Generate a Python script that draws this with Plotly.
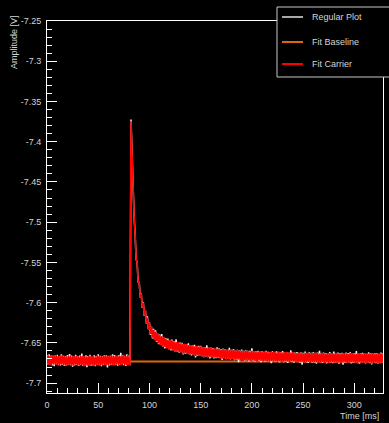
import plotly.graph_objects as go

# ---- trace data -------------------------------------------------------------
# the scope trace is sampled every 1 ms from 0 to 328 ms
time_ms = list(range(0, 329))

# slow signal level [V] at each sample
level_v = [
    -7.6712, -7.6714, -7.6713, -7.6715, -7.6716, -7.6714, -7.6715, -7.6717, -7.6716, -7.6715,
    -7.6716, -7.6718, -7.6717, -7.6716, -7.6718, -7.6719, -7.6718, -7.6717, -7.6719, -7.6720,
    -7.6719, -7.6720, -7.6721, -7.6720, -7.6719, -7.6721, -7.6722, -7.6721, -7.6720, -7.6722,
    -7.6723, -7.6722, -7.6721, -7.6723, -7.6724, -7.6722, -7.6723, -7.6724, -7.6723, -7.6722,
    -7.6723, -7.6724, -7.6722, -7.6721, -7.6723, -7.6722, -7.6721, -7.6722, -7.6720, -7.6721,
    -7.6720, -7.6719, -7.6721, -7.6720, -7.6718, -7.6719, -7.6720, -7.6718, -7.6717, -7.6719,
    -7.6718, -7.6716, -7.6717, -7.6718, -7.6716, -7.6715, -7.6717, -7.6716, -7.6714, -7.6715,
    -7.6716, -7.6714, -7.6713, -7.6715, -7.6714, -7.6712, -7.6713, -7.6714, -7.6712, -7.6711,
    -7.6712, -7.6713, -7.3780, -7.4150, -7.4520, -7.4870, -7.5200, -7.5400, -7.5560, -7.5690,
    -7.5800, -7.5880, -7.5950, -7.6005, -7.6060, -7.6105, -7.6150, -7.6195, -7.6240, -7.6275,
    -7.6310, -7.6335, -7.6360, -7.6375, -7.6390, -7.6405, -7.6417, -7.6429, -7.6440, -7.6449,
    -7.6459, -7.6468, -7.6475, -7.6483, -7.6490, -7.6496, -7.6502, -7.6508, -7.6513, -7.6518,
    -7.6522, -7.6526, -7.6531, -7.6535, -7.6539, -7.6543, -7.6547, -7.6550, -7.6554, -7.6557,
    -7.6560, -7.6563, -7.6566, -7.6569, -7.6571, -7.6574, -7.6577, -7.6579, -7.6582, -7.6584,
    -7.6587, -7.6589, -7.6591, -7.6593, -7.6595, -7.6597, -7.6599, -7.6601, -7.6603, -7.6605,
    -7.6607, -7.6608, -7.6610, -7.6612, -7.6613, -7.6615, -7.6616, -7.6618, -7.6619, -7.6621,
    -7.6622, -7.6624, -7.6625, -7.6626, -7.6628, -7.6629, -7.6630, -7.6631, -7.6633, -7.6634,
    -7.6635, -7.6636, -7.6637, -7.6638, -7.6639, -7.6640, -7.6641, -7.6642, -7.6643, -7.6644,
    -7.6645, -7.6646, -7.6647, -7.6648, -7.6649, -7.6650, -7.6651, -7.6652, -7.6653, -7.6654,
    -7.6655, -7.6655, -7.6656, -7.6657, -7.6658, -7.6659, -7.6659, -7.6660, -7.6661, -7.6661,
    -7.6662, -7.6663, -7.6663, -7.6664, -7.6665, -7.6665, -7.6666, -7.6666, -7.6667, -7.6667,
    -7.6668, -7.6668, -7.6669, -7.6669, -7.6670, -7.6670, -7.6671, -7.6671, -7.6672, -7.6672,
    -7.6672, -7.6673, -7.6673, -7.6674, -7.6674, -7.6674, -7.6675, -7.6675, -7.6675, -7.6676,
    -7.6676, -7.6676, -7.6677, -7.6677, -7.6677, -7.6678, -7.6678, -7.6678, -7.6679, -7.6679,
    -7.6679, -7.6679, -7.6680, -7.6680, -7.6680, -7.6680, -7.6681, -7.6681, -7.6681, -7.6681,
    -7.6682, -7.6682, -7.6682, -7.6682, -7.6682, -7.6683, -7.6683, -7.6683, -7.6683, -7.6683,
    -7.6684, -7.6684, -7.6684, -7.6684, -7.6684, -7.6684, -7.6685, -7.6685, -7.6685, -7.6685,
    -7.6685, -7.6685, -7.6686, -7.6686, -7.6686, -7.6686, -7.6686, -7.6686, -7.6686, -7.6687,
    -7.6687, -7.6687, -7.6687, -7.6687, -7.6687, -7.6687, -7.6688, -7.6688, -7.6688, -7.6688,
    -7.6688, -7.6688, -7.6688, -7.6688, -7.6689, -7.6689, -7.6689, -7.6689, -7.6689, -7.6689,
    -7.6689, -7.6689, -7.6690, -7.6690, -7.6690, -7.6690, -7.6690, -7.6690, -7.6690, -7.6690,
    -7.6690, -7.6691, -7.6691, -7.6691, -7.6691, -7.6691, -7.6691, -7.6691, -7.6691, -7.6691,
    -7.6692, -7.6692, -7.6692, -7.6692, -7.6692, -7.6692, -7.6692, -7.6692, -7.6692,
]

# sample-to-sample noise on the raw trace, in units of 0.1 mV
raw_noise = [
    62, -55, 71, -49, 58, -66, 53, -72, 60, -51,
    68, -58, 49, -63, 75, -54, 57, -69, 52, -60,
    66, -47, 83, -56, 61, -74, 50, -59, 70, -52,
    56, -65, 64, -50, 92, -61, 54, -57, 67, -79,
    59, -53, 72, -62, 48, -58, 65, -68, 55, -50,
    78, -57, 60, -71, 53, -55, 69, -48, 62, -86,
    51, -63, 57, -52, 74, -60, 66, -54, 49, -67,
    63, -59, 88, -50, 58, -64, 52, -73, 70, -56,
    61, -58, 55, -40, 50, -52, 56, -60, 58, -62,
    60, -55, 64, -58, 66, -61, 57, -63, 69, -54,
    62, -66, 58, -71, 65, -52, 73, -59, 55, -68,
    61, -57, 84, -62, 56, -74, 63, -50, 67, -60,
    53, -69, 71, -56, 59, -63, 90, -58, 52, -66,
    64, -51, 68, -75, 57, -61, 62, -54, 77, -59,
    55, -67, 60, -53, 72, -84, 58, -62, 66, -50,
    70, -58, 54, -65, 61, -56, 86, -60, 57, -72,
    63, -55, 59, -68, 52, -61, 74, -57, 65, -53,
    58, -76, 67, -50, 62, -64, 55, -59, 81, -62,
    60, -54, 69, -66, 53, -58, 64, -88, 57, -61,
    71, -52, 56, -63, 66, -57, 59, -70, 62, -55,
    93, -60, 54, -67, 61, -53, 68, -59, 55, -74,
    64, -56, 58, -62, 72, -51, 60, -65, 57, -80,
    66, -58, 53, -61, 70, -55, 63, -68, 59, -52,
    75, -63, 57, -56, 62, -71, 54, -60, 85, -57,
    61, -66, 59, -52, 67, -58, 56, -64, 63, -90,
    58, -55, 73, -61, 52, -67, 65, -53, 60, -62,
    69, -59, 55, -76, 62, -54, 87, -58, 57, -63,
    64, -52, 60, -68, 56, -61, 71, -57, 53, -65,
    78, -60, 58, -54, 66, -72, 59, -56, 63, -84,
    55, -62, 68, -58, 61, -53, 74, -66, 57, -60,
    62, -57, 89, -63, 54, -69, 60, -55, 67, -58,
    59, -64, 56, -52, 72, -61, 63, -78, 58, -56,
    66, -59, 61, -65, 55, -60, 70, -54, 62,
]

# sample-to-sample noise on the carrier fit trace, in units of 0.1 mV
carrier_noise = [
    -54, 60, -58, 52, -63, 57, -50, 61, -56, 64,
    -59, 53, -62, 58, -51, 66, -57, 55, -64, 50,
    -60, 62, -53, 57, -68, 54, -59, 63, -52, 58,
    -65, 51, -57, 60, -54, 62, -70, 56, -58, 53,
    -61, 64, -55, 59, -52, 57, -63, 50, -60, 66,
    -53, 58, -64, 55, -59, 61, -51, 67, -56, 54,
    -62, 57, -50, 63, -58, 52, -66, 59, -55, 60,
    -57, 54, -61, 56, -53, 65, -60, 51, -64, 58,
    -55, -60, 35, -36, 44, -46, 50, -52, 54, -55,
    56, -58, 57, -54, 60, -56, 58, -61, 55, -57,
    62, -55, 59, -60, 53, -63, 57, -52, 61, -58,
    54, -62, 58, -57, 64, -53, 56, -60, 52, -65,
    59, -55, 63, -58, 51, -61, 57, -54, 66, -59,
    53, -60, 56, -64, 58, -52, 62, -57, 55, -61,
    60, -54, 57, -59, 52, -66, 61, -55, 58, -53,
    64, -57, 53, -62, 59, -56, 55, -60, 63, -52,
    57, -61, 54, -58, 66, -55, 60, -53, 56, -63,
    52, -59, 62, -56, 58, -60, 55, -64, 57, -54,
    61, -53, 59, -62, 56, -57, 64, -55, 52, -60,
    58, -65, 55, -58, 60, -53, 63, -59, 54, -57,
    62, -56, 57, -61, 53, -64, 59, -52, 66, -58,
    55, -60, 58, -54, 61, -57, 52, -63, 60, -55,
    57, -62, 64, -56, 53, -59, 61, -55, 58, -66,
    54, -58, 60, -53, 65, -57, 56, -61, 59, -52,
    63, -55, 57, -60, 54, -62, 58, -56, 61, -59,
    52, -64, 59, -57, 62, -54, 56, -60, 55, -58,
    60, -53, 66, -59, 57, -56, 53, -62, 64, -55,
    58, -61, 54, -57, 60, -65, 59, -53, 62, -56,
    55, -59, 63, -54, 57, -60, 52, -64, 58, -57,
    61, -56, 59, -62, 54, -58, 65, -55, 60, -53,
    57, -63, 55, -59, 62, -54, 58, -61, 53, -60,
    64, -57, 56, -60, 59, -55, 61, -66, 54, -58,
    60, -54, 57, -62, 55, -59, 63, -56, 58,
]

# fitted baseline after the trigger
baseline_t = [81, 328]
baseline_v = [-7.673, -7.673]

series_names = ["Regular Plot", "Fit Baseline", "Fit Carrier"]
series_colors = ["#a8a8a8", "#e2640f", "#ff0000"]

x_range = [0, 328]
y_range = [-7.7123, -7.25]
x_ticks = [0, 50, 100, 150, 200, 250, 300]
x_labels = ["0", "50", "100", "150", "200", "250", "300"]
y_ticks = [-7.25, -7.3, -7.35, -7.4, -7.45, -7.5, -7.55, -7.6, -7.65, -7.7]
y_labels = ["-7.25", "-7.3", "-7.35", "-7.4", "-7.45", "-7.5", "-7.55", "-7.6", "-7.65", "-7.7"]

# ---- geometry helpers ---------------------------------------------------------
W, H = 389, 423
ML, MR, MT, MB = 47, 6, 21, 30
PW, PH = W - ML - MR, H - MT - MB


def px(x):
    return (x - ML) / PW


def py(y):
    return (H - MB - y) / PH


raw_v = [lv + n * 1e-4 for lv, n in zip(level_v, raw_noise)]
carrier_v = [lv + n * 1e-4 for lv, n in zip(level_v, carrier_noise)]

FONT = "Liberation Sans, Arial, Helvetica, sans-serif"
TXT = "#d4d4d4"

fig = go.Figure()

fig.add_trace(go.Scatter(
    x=baseline_t, y=baseline_v, mode="lines", name=series_names[1],
    line=dict(color=series_colors[1], width=2), showlegend=False,
))
fig.add_trace(go.Scatter(
    x=time_ms, y=raw_v, mode="lines", name=series_names[0],
    line=dict(color="#f2f2f2", width=1.5), showlegend=False,
))
fig.add_trace(go.Scatter(
    x=time_ms, y=carrier_v, mode="lines", name=series_names[2],
    line=dict(color="#ff0000", width=1.6), showlegend=False,
))

axis_common = dict(
    showgrid=False, zeroline=False, showline=True, linecolor="#ffffff", linewidth=1,
    mirror=True, ticks="inside", tickcolor="#ffffff", tickwidth=1, ticklen=10,
    tickfont=dict(family=FONT, size=9, color=TXT),
)

fig.update_xaxes(
    range=x_range, tickmode="array", tickvals=x_ticks, ticktext=x_labels,
    minor=dict(ticks="inside", dtick=10, tick0=0, ticklen=5, tickcolor="#ffffff",
               tickwidth=1, showgrid=False),
    ticklabelstandoff=3, **axis_common,
)
fig.update_yaxes(
    range=y_range, tickmode="array", tickvals=y_ticks, ticktext=y_labels,
    minor=dict(ticks="inside", dtick=0.01, tick0=-7.7, ticklen=5, tickcolor="#ffffff",
               tickwidth=1, showgrid=False),
    ticklabelstandoff=3, **axis_common,
)

shapes = []
annotations = []

# legend box in the top-right corner
shapes.append(dict(type="rect", xref="paper", yref="paper", layer="above",
                   x0=px(277), x1=px(396), y0=py(77), y1=py(7),
                   line=dict(color="#c8c8c8", width=1), fillcolor="#000000"))
for i, (name, col) in enumerate(zip(series_names, series_colors)):
    yy = [17, 42, 64][i]
    shapes.append(dict(type="line", xref="paper", yref="paper", layer="above",
                       x0=px(282), x1=px(303), y0=py(yy), y1=py(yy),
                       line=dict(color=col, width=2)))
    annotations.append(dict(text=name, xref="paper", yref="paper", x=px(310), y=py(yy),
                            xanchor="left", yanchor="middle", showarrow=False,
                            font=dict(family=FONT, size=9, color=TXT)))

# axis titles, aligned to the axis ends
annotations.append(dict(text="Amplitude [V]", xref="paper", yref="paper",
                        x=px(14), y=py(13), xanchor="center", yanchor="top",
                        textangle=-90, showarrow=False,
                        font=dict(family=FONT, size=9, color=TXT)))
annotations.append(dict(text="Time [ms]", xref="paper", yref="paper",
                        x=px(381), y=py(416), xanchor="right", yanchor="middle",
                        showarrow=False, font=dict(family=FONT, size=9, color=TXT)))

fig.update_layout(
    width=W, height=H,
    margin=dict(l=ML, r=MR, t=MT, b=MB, pad=0),
    paper_bgcolor="#000000", plot_bgcolor="#000000",
    showlegend=False, shapes=shapes, annotations=annotations,
)

fig.write_html("out.html")
